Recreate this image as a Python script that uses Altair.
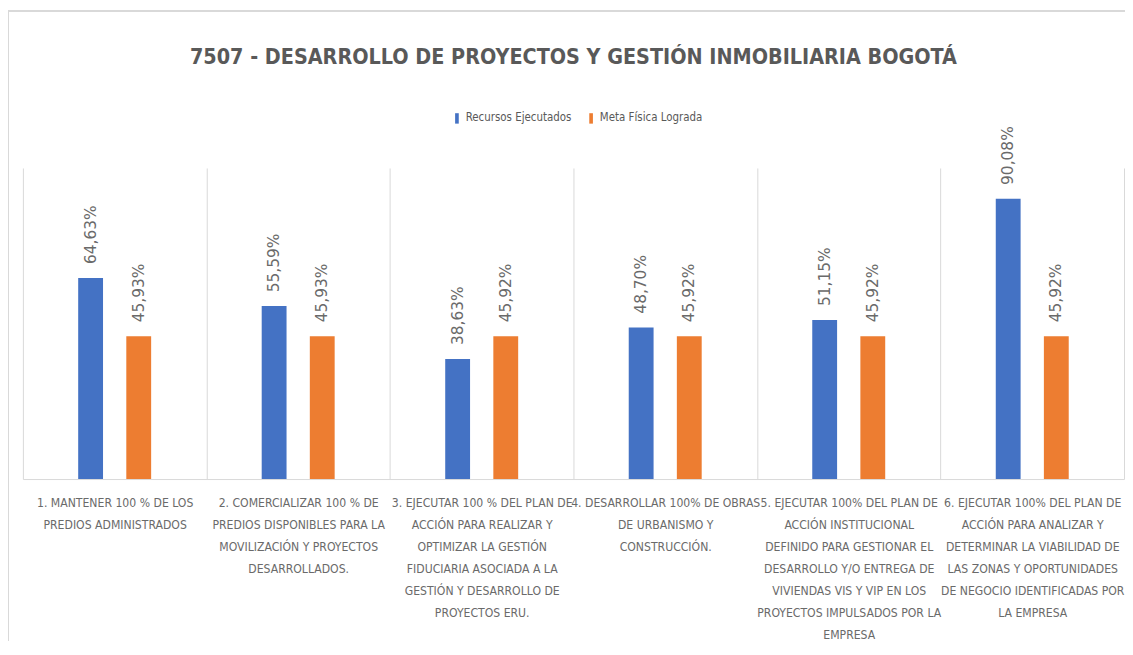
import altair as alt
import pandas as pd

categories = [
    "1. MANTENER 100 % DE LOS|PREDIOS ADMINISTRADOS",
    "2. COMERCIALIZAR 100 % DE|PREDIOS DISPONIBLES PARA LA|MOVILIZACIÓN Y PROYECTOS|DESARROLLADOS.",
    "3. EJECUTAR 100 % DEL PLAN DE|ACCIÓN PARA REALIZAR Y|OPTIMIZAR LA GESTIÓN|FIDUCIARIA ASOCIADA A LA|GESTIÓN Y DESARROLLO DE|PROYECTOS ERU.",
    "4. DESARROLLAR 100% DE OBRAS|DE URBANISMO Y|CONSTRUCCIÓN.",
    "5. EJECUTAR 100% DEL PLAN DE|ACCIÓN INSTITUCIONAL|DEFINIDO PARA GESTIONAR EL|DESARROLLO Y/O ENTREGA DE|VIVIENDAS VIS Y VIP EN LOS|PROYECTOS IMPULSADOS POR LA|EMPRESA",
    "6. EJECUTAR 100% DEL PLAN DE|ACCIÓN PARA ANALIZAR Y|DETERMINAR LA VIABILIDAD DE|LAS ZONAS Y OPORTUNIDADES|DE NEGOCIO IDENTIFICADAS POR|LA EMPRESA",
]
recursos = [64.63, 55.59, 38.63, 48.70, 51.15, 90.08]
meta = [45.93, 45.93, 45.92, 45.92, 45.92, 45.92]
series = ["Recursos Ejecutados", "Meta Física Lograda"]
colors = ["#4472C4", "#ED7D31"]
title_text = "7507 - DESARROLLO DE PROYECTOS Y GESTIÓN INMOBILIARIA BOGOTÁ"

rows = []
for c, r, m in zip(categories, recursos, meta):
    rows.append({"cat": c, "serie": series[0], "valor": r})
    rows.append({"cat": c, "serie": series[1], "valor": m})
df = pd.DataFrame(rows)

NARROW = "DejaVu Sans Condensed, Liberation Sans Narrow, sans-serif"
W, H = 1108, 313

base = alt.Chart(df).encode(
    x=alt.X(
        "cat:N",
        sort=categories,
        scale=alt.Scale(paddingInner=0, paddingOuter=0),
        axis=alt.Axis(
            title=None,
            labelAngle=0,
            labelExpr="split(datum.label, '|')",
            labelFont=NARROW,
            labelFontSize=12.2,
            labelColor="#6a6a6a",
            labelLineHeight=22,
            labelPadding=18,
            labelBaseline="top",
            labelOverlap=False,
            labelBound=False,
            labelLimit=400,
            ticks=False,
            domainColor="#d9d9d9",
            grid=True,
            gridColor="#d9d9d9",
            tickBand="extent",
        ),
    ),
    xOffset=alt.XOffset(
        "serie:N", sort=series, scale=alt.Scale(paddingInner=0, paddingOuter=0.907)
    ),
    y=alt.Y("valor:Q", scale=alt.Scale(domain=[0, 100]), axis=None),
)

bars = base.mark_bar(size=25).encode(
    color=alt.Color(
        "serie:N",
        sort=series,
        scale=alt.Scale(domain=series, range=colors),
        legend=alt.Legend(
            title=None,
            orient="none",
            legendX=431,
            legendY=-56,
            direction="horizontal",
            labelFont=NARROW,
            labelFontSize=11.5,
            labelColor="#595959",
            symbolType="M-0.35,-1H0.35V1H-0.35Z",
            symbolSize=110,
            symbolStrokeWidth=0,
            columnPadding=13,
            labelOffset=3,
        ),
    )
)

labels = (
    base.transform_calculate(
        lbl="replace(format(datum.valor, '.2f'), '.', ',') + '%'"
    )
    .mark_text(
        angle=270,
        align="left",
        baseline="middle",
        dx=14,
        font="DejaVu Sans",
        fontSize=15.5,
        color="#6a6a6a",
    )
    .encode(text="lbl:N")
)

frame_df = pd.DataFrame({"a": [0]})
top_border = alt.Chart(frame_df).mark_rule(color="#d9d9d9", strokeWidth=2).encode(
    x=alt.value(-15), x2=alt.value(W + 1), y=alt.value(-158)
)
left_border = alt.Chart(frame_df).mark_rule(color="#d9d9d9", strokeWidth=2).encode(
    x=alt.value(-15), y=alt.value(-158), y2=alt.value(H + 163)
)

chart = (
    alt.layer(bars, labels, top_border, left_border)
    .properties(
        width=W,
        height=H,
        autosize=alt.AutoSizeParams(type="none"),
        padding={"left": 15, "top": 159, "right": 1, "bottom": 163},
        title=alt.TitleParams(
            title_text,
            font=NARROW,
            fontSize=21.5,
            fontWeight="bold",
            color="#595959",
            anchor="middle",
            offset=-59,
        ),
    )
    .configure_view(stroke=None)
)

chart.save("out.html", embed_options={"renderer": "svg", "actions": False})
